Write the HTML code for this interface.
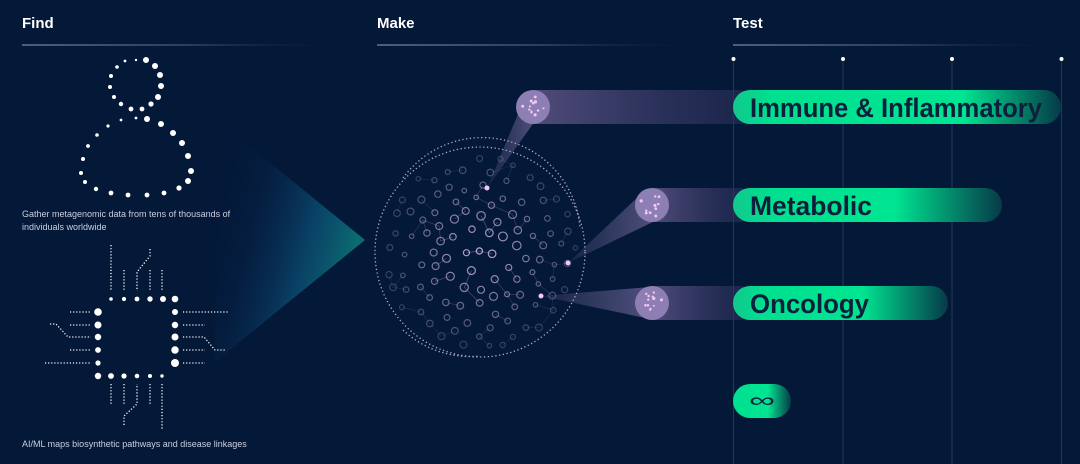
<!DOCTYPE html>
<html><head><meta charset="utf-8"><style>
html,body{margin:0;padding:0;background:#041838;width:1080px;height:464px;overflow:hidden}
svg{display:block}
text{font-family:"Liberation Sans",sans-serif}
</style></head><body>
<svg id="s" width="1080" height="464" viewBox="0 0 1080 464" xmlns="http://www.w3.org/2000/svg">
<defs>
<linearGradient id="hl" x1="0" x2="1"><stop offset="0" stop-color="#9aa3bd"/><stop offset="0.5" stop-color="#5a6583"/><stop offset="1" stop-color="#041838" stop-opacity="0"/></linearGradient>
<linearGradient id="tri" x1="0" y1="0" x2="1" y2="0.4"><stop offset="0" stop-color="#041838" stop-opacity="0"/><stop offset="0.35" stop-color="#06284f" stop-opacity="0.3"/><stop offset="0.7" stop-color="#0b4a70" stop-opacity="0.8"/><stop offset="1" stop-color="#0b6d72"/></linearGradient>
<linearGradient id="beam" x1="0" x2="1"><stop offset="0" stop-color="#5a5282" stop-opacity="0.9"/><stop offset="0.6" stop-color="#3a3c68" stop-opacity="0.7"/><stop offset="1" stop-color="#2a2f5a" stop-opacity="0.6"/></linearGradient>
<linearGradient id="cone" x1="0" x2="1"><stop offset="0" stop-color="#8a7bb0" stop-opacity="0.15"/><stop offset="1" stop-color="#8a7bb0" stop-opacity="0.7"/></linearGradient>
<linearGradient id="pill" x1="0" x2="1"><stop offset="0" stop-color="#12c88e"/><stop offset="0.12" stop-color="#00e08f"/><stop offset="0.7" stop-color="#00e591"/><stop offset="1" stop-color="#063a48"/></linearGradient>
<linearGradient id="pill2" x1="0" x2="1"><stop offset="0" stop-color="#12c88e"/><stop offset="0.15" stop-color="#00e08f"/><stop offset="0.6" stop-color="#00e591"/><stop offset="1" stop-color="#063a48"/></linearGradient>
<linearGradient id="pill3" x1="0" x2="1"><stop offset="0" stop-color="#00e08f"/><stop offset="0.6" stop-color="#00e591"/><stop offset="1" stop-color="#063a48"/></linearGradient>
</defs>
<text x="22" y="28" font-size="15" font-weight="bold" fill="#fff">Find</text>
<text x="377" y="28" font-size="15" font-weight="bold" fill="#fff">Make</text>
<text x="733" y="28" font-size="15" font-weight="bold" fill="#fff">Test</text>
<rect x="22" y="44.5" width="325" height="1" fill="url(#hl)"/>
<rect x="377" y="44.5" width="325" height="1" fill="url(#hl)"/>
<rect x="733" y="44.5" width="330" height="1" fill="url(#hl)"/>
<polygon points="215,118 365,240 215,362" fill="url(#tri)"/>
<g stroke="#26375a" stroke-width="1">
<line x1="733.5" y1="59" x2="733.5" y2="464"/><line x1="843" y1="59" x2="843" y2="464"/><line x1="952" y1="59" x2="952" y2="464"/><line x1="1061.5" y1="59" x2="1061.5" y2="464"/>
</g>
<g fill="#fff"><circle cx="733.5" cy="59" r="2"/><circle cx="843" cy="59" r="2"/><circle cx="952" cy="59" r="2"/><circle cx="1061.5" cy="59" r="2"/></g>
<rect x="533" y="90" width="210" height="34" fill="url(#beam)"/>
<rect x="652" y="188" width="91" height="34" fill="url(#beam)"/>
<rect x="652" y="286" width="91" height="34" fill="url(#beam)"/>
<polygon points="487,188 518,114 535,121" fill="url(#cone)" opacity="0.8"/>
<polygon points="568,263 640,195 655,221" fill="url(#cone)" opacity="0.8"/>
<polygon points="541,296 650,287 650,319" fill="url(#cone)" opacity="0.8"/>
<circle cx="533" cy="107" r="17" fill="#8d7fb3"/>
<circle cx="652" cy="205" r="17" fill="#8d7fb3"/>
<circle cx="652" cy="303" r="17" fill="#8d7fb3"/>
<g id="mol" fill="#f0c8f0"></g>
<rect x="733" y="90" width="328" height="34" rx="17" fill="url(#pill)"/>
<rect x="733" y="188" width="269" height="34" rx="17" fill="url(#pill2)"/>
<rect x="733" y="286" width="215" height="34" rx="17" fill="url(#pill2)"/>
<rect x="733" y="384" width="58" height="34" rx="17" fill="url(#pill3)"/>
<text x="750" y="117" font-size="27" font-weight="bold" fill="#0c1f3c" textLength="292" lengthAdjust="spacingAndGlyphs">Immune &amp; Inflammatory</text>
<text x="750" y="215" font-size="27" font-weight="bold" fill="#0c1f3c" textLength="122" lengthAdjust="spacingAndGlyphs">Metabolic</text>
<text x="750" y="313" font-size="27" font-weight="bold" fill="#0c1f3c" textLength="119" lengthAdjust="spacingAndGlyphs">Oncology</text>
<text x="749" y="407" font-size="20" fill="#0c1f3c" textLength="26" lengthAdjust="spacingAndGlyphs">∞</text>
<circle cx="480" cy="252" r="105" fill="none" stroke="#b0a8d0" stroke-width="1.3" stroke-dasharray="1.3 2.5"/>
<path d="M403,178 A98,98 0 0 1 580,228" fill="none" stroke="#b0a8d0" stroke-width="1.3" stroke-dasharray="1.3 2.5"/>
<path d="M403,330 A98,98 0 0 0 480,356" fill="none" stroke="#b0a8d0" stroke-width="1.3" stroke-dasharray="1.3 2.5"/>
<g id="net"></g>
<g fill="#f3c8f3"><circle cx="487" cy="188" r="2.5"/><circle cx="568" cy="263" r="2.5"/><circle cx="541" cy="296" r="2.5"/></g>
<g id="person" fill="#fff"></g>
<g id="chip" fill="#fff"></g>
<text x="22" y="217" font-size="9" fill="#c9cfe0">Gather metagenomic data from tens of thousands of</text>
<text x="22" y="230" font-size="9" fill="#c9cfe0">individuals worldwide</text>
<text x="22" y="447" font-size="9" fill="#c9cfe0">AI/ML maps biosynthetic pathways and disease linkages</text>
</svg>
<script>
var NS="http://www.w3.org/2000/svg";
function el(p,t,a){var e=document.createElementNS(NS,t);for(var k in a)e.setAttribute(k,a[k]);p.appendChild(e);return e;}
var P=document.getElementById('person');
[[136,60,1.2],[146,60,3],[155,66,3],[160,75,3],[161,86,3],[158,97,3],[151,104,2.6],[142,109,2.4],[131,109,2.4],[121,104,2.2],[114,97,2],[110,87,2],[111,76,2],[117,67,1.8],[125,61,1.4],
[136,118,1.4],[147,119,3],[161,124,3],[173,133,3],[182,143,3],[188,156,3],[191,171,3],[188,181,3],[179,188,2.6],[164,193,2.4],[147,195,2.4],[128,195,2.4],[111,193,2.4],[96,189,2.2],[85,182,2],[81,173,2],[83,159,2],[88,146,1.9],[97,135,1.8],[108,126,1.6],[121,120,1.4]
].forEach(function(d){el(P,'circle',{cx:d[0],cy:d[1],r:d[2]});});
var C=document.getElementById('chip');
[111,124,137,150,163,175].forEach(function(x,i){el(C,'circle',{cx:x,cy:299,r:1.8+i*0.3});});
[98,111,124,137,150,162].forEach(function(x,i){el(C,'circle',{cx:x,cy:376,r:3.2-i*0.3});});
[312,325,337,350,363].forEach(function(y,i){el(C,'circle',{cx:98,cy:y,r:3.8-i*0.3});el(C,'circle',{cx:175,cy:y,r:3+i*0.25});});
function dl(pts){var d='M'+pts.map(function(p){return p.join(',')}).join(' L');el(C,'path',{d:d,fill:'none',stroke:'#fff','stroke-width':1.3,'stroke-dasharray':'1.2 1.9'});}
dl([[70,312],[91,312]]);dl([[70,325],[91,325]]);dl([[50,324],[56,324],[68,337],[91,337]]);dl([[70,350],[91,350]]);dl([[45,363],[91,363]]);
dl([[183,312],[229,312]]);dl([[183,325],[205,325]]);dl([[183,337],[204,337],[215,350],[225,350]]);dl([[183,350],[205,350]]);dl([[183,363],[205,363]]);
dl([[111,245],[111,291]]);dl([[124,270],[124,291]]);dl([[150,249],[150,256],[137,272],[137,291]]);dl([[150,270],[150,291]]);dl([[162,270],[162,291]]);
dl([[111,384],[111,405]]);dl([[124,425],[124,416],[137,404],[137,384]]);dl([[124,384],[124,405]]);dl([[150,384],[150,405]]);dl([[162,384],[162,430]]);
var N=document.getElementById('net');var seed=7;function rnd(){seed=(seed*16807)%2147483647;return seed/2147483647;}
var pts=[];var cx=480,cy=252;
for(var i=0;i<3000&&pts.length<135;i++){var x=cx+(rnd()*2-1)*100,y=cy+(rnd()*2-1)*100;var r=Math.hypot(x-cx,y-cy);if(r>96)continue;var ok=true;pts.forEach(function(p){if(Math.hypot(p[0]-x,p[1]-y)<13)ok=false;});if(ok)pts.push([x,y,r]);}
pts.forEach(function(p,i){var best=null,bd=1e9;pts.forEach(function(q,j){if(j<=i)return;var d=Math.hypot(p[0]-q[0],p[1]-q[1]);if(d<bd){bd=d;best=q;}});
if(best&&bd<24&&rnd()<0.6){var o=Math.max(0.15,0.6-p[2]/200);el(N,'line',{x1:p[0],y1:p[1],x2:best[0],y2:best[1],stroke:'#8a86b8','stroke-opacity':o,'stroke-width':0.8});}});
pts.forEach(function(p){var o=Math.max(0.2,1-p[2]/130);var rr=p[2]<50?3+rnd()*1.5:2.2+rnd()*1.3;el(N,'circle',{cx:p[0],cy:p[1],r:rr,fill:'none',stroke:'#c0acdc','stroke-opacity':o,'stroke-width':1.2});});
var M=document.getElementById('mol');
[[533,107],[652,205],[652,303]].forEach(function(c){for(var k=0;k<12;k++){var a=rnd()*6.28,r=3+rnd()*9;el(M,'circle',{cx:c[0]+Math.cos(a)*r,cy:c[1]+Math.sin(a)*r,r:0.9+rnd()*0.8});}});
</script>
</body></html>
